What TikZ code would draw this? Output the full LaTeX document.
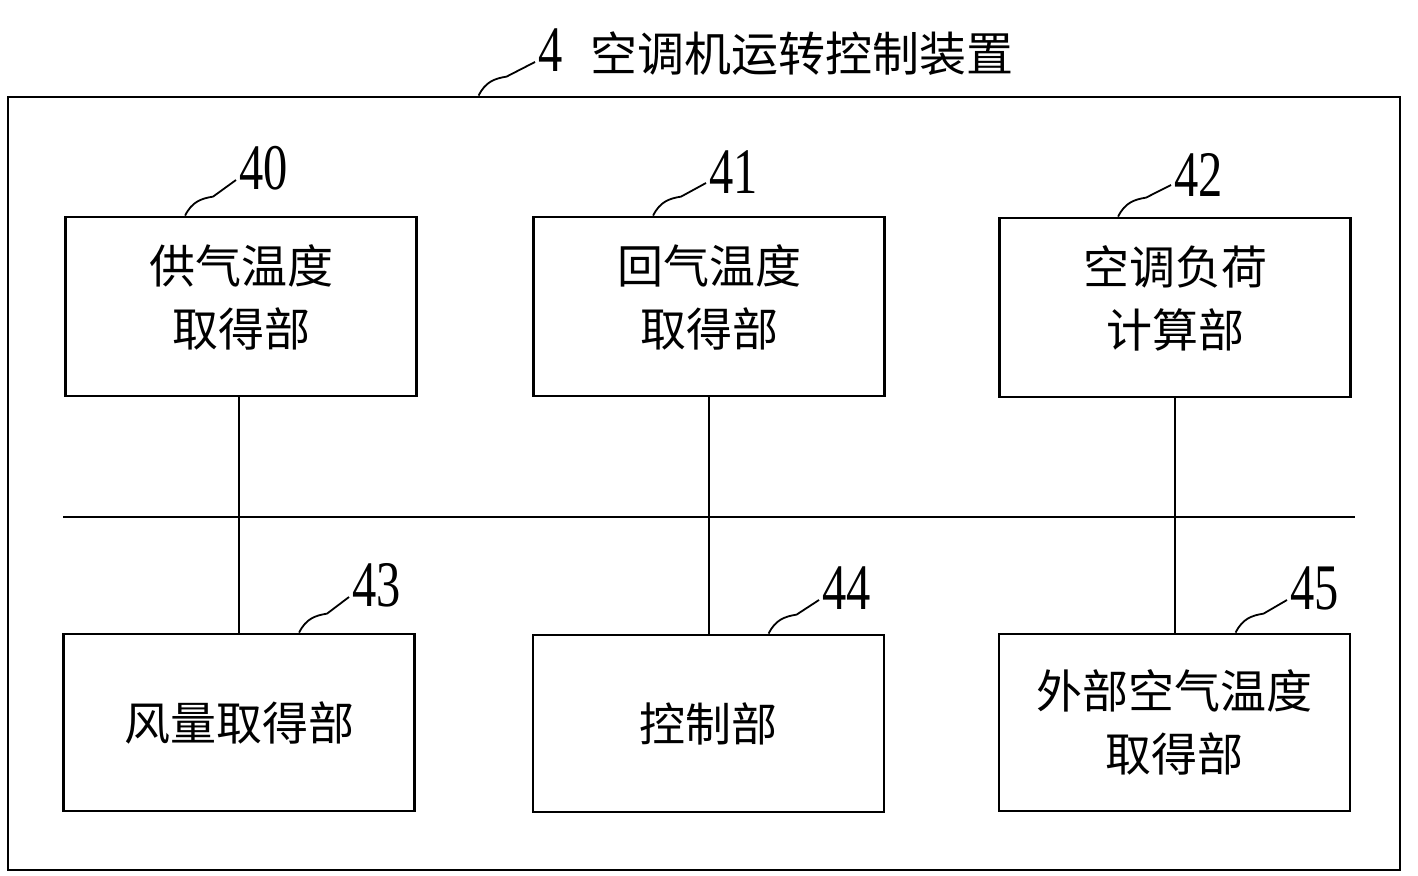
\documentclass[tikz,border=0pt]{standalone}
\usepackage{fontspec}
\setmainfont{Liberation Serif}
\newfontfamily\cjk{Noto Sans CJK SC}
\usetikzlibrary{calc}
\newcommand\dig[1]{\scalebox{0.97}[1.3]{\fontsize{25pt}{25pt}\selectfont #1}}
\begin{document}
\begin{tikzpicture}[x=0.5pt,y=-0.5pt,
  unit/.style={draw,line width=1.4pt,minimum width=175.5pt,inner sep=0pt,
    font=\cjk\fontsize{23pt}{31.5pt}\selectfont,align=center},
  toprow/.style={unit,minimum height=89.5pt,text depth=11pt},
  botrow/.style={unit,minimum height=88.5pt},
  num/.style={inner sep=0pt,anchor=west},
  wire/.style={line width=1pt},
  leader/.style={line width=0.9pt}]
\useasboundingbox (0,0) rectangle (1418,876);
\node[draw,line width=1.4pt,minimum width=696pt,minimum height=386.5pt,inner sep=0pt] (frame) at (704,483.5) {};
% boxes
\node[toprow] (b40) at (241,306.5) {供气温度\\取得部};
\node[toprow] (b41) at (709,306.5) {回气温度\\取得部};
\node[toprow] (b42) at (1175,307.5) {空调负荷\\计算部};
\node[botrow] (b43) at (239,722.5) {风量取得部};
\node[botrow] (b44) at (708.5,723.5) {控制部};
\node[botrow] (b45) at (1174.5,722.5) {外部空气温度\\取得部};
% bus
\coordinate (busL) at (63,517);
\coordinate (busR) at (1355,517);
\draw[wire] (busL) -- (busR);
\draw[wire] (b40.south -| b43.north) -- (b43.north);
\draw[wire] (b41.south -| b44.north) -- (b44.north);
\draw[wire] (b42.south -| b45.north) -- (b45.north);
% labels
\node[num] (t4) at (538,52) {\dig{4}\hspace{14pt}{\cjk\fontsize{23.5pt}{24pt}\selectfont 空调机运转控制装置}};
\node[num] (l40) at (239,168) {\dig{40}};
\node[num] (l41) at (709,172) {\dig{41}};
\node[num] (l42) at (1174,175) {\dig{42}};
\node[num] (l43) at (352,585) {\dig{43}};
\node[num] (l44) at (822,588) {\dig{44}};
\node[num] (l45) at (1290,588) {\dig{45}};
% leaders
\newcommand\lead[3]{\draw[leader] (#1) .. controls +(7,-14) and +(-12,2) .. ($(#1)+(28,-19)$) -- ([shift={(-3,#3)}]#2.west);}
\lead{$(b40.north west)+(121,0)$}{l40}{12}
\lead{$(b41.north west)+(121,0)$}{l41}{11}
\lead{$(b42.north west)+(120,0)$}{l42}{10}
\lead{$(b43.north west)+(237,0)$}{l43}{12}
\lead{$(b44.north west)+(237,0)$}{l44}{12}
\lead{$(b45.north west)+(238,0)$}{l45}{12}
\lead{$(frame.north west)+(472,0)$}{t4}{10}
\end{tikzpicture}
\end{document}
